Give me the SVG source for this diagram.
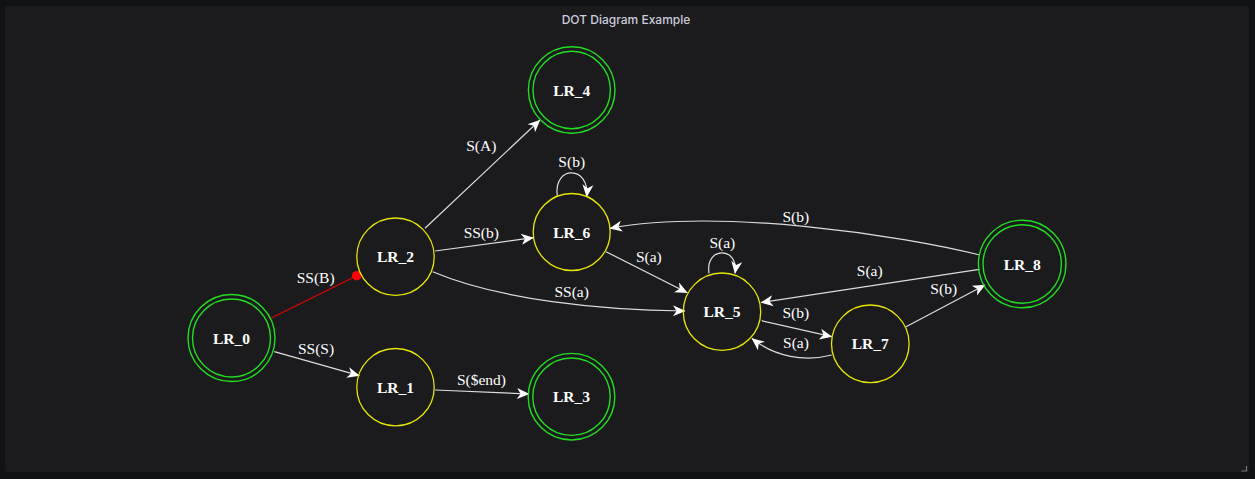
<svg xmlns="http://www.w3.org/2000/svg" width="1255" height="479" viewBox="0 0 1255 479">
<style>
.ttl{font-family:Inter,"Noto Sans",sans-serif;font-size:12px;font-weight:500;fill:#ccccdc;text-anchor:middle}
.nl{font-family:"Liberation Serif",serif;font-size:15.5px;font-weight:bold;fill:#ffffff;text-anchor:middle}
.el{font-family:"Liberation Serif",serif;font-size:15.5px;fill:#ffffff;text-anchor:middle}
.y{fill:none;stroke:#e6e600;stroke-width:1.3}
.g{fill:none;stroke:#22dd22;stroke-width:1.4}
.e{fill:none;stroke:#dcdcdc;stroke-width:1.2}
</style>
<defs>
<marker id="arr" viewBox="-13 -7 14 14" refX="0" refY="0" markerWidth="14" markerHeight="14" markerUnits="userSpaceOnUse" orient="auto">
<path d="M0.5,0 L-12,-5.5 L-8.5,0 L-12,5.5 Z" fill="#ffffff"/>
</marker>
</defs>
<rect x="0" y="0" width="1255" height="479" fill="#111216"/>
<rect x="5" y="6" width="1244" height="466" rx="3" fill="#1b1b1e"/>
<text class="ttl" x="626" y="24">DOT Diagram Example</text>
<path d="M1246.5,466 v5 h-5" fill="none" stroke="#777" stroke-width="1.2"/>

<g id="edges">
<line x1="270.7" y1="318.3" x2="356.7" y2="275.7" stroke="#e00000" stroke-width="1.2"/>
<circle cx="356.7" cy="275.7" r="4.8" fill="#ff0000"/>
<text class="el" x="315.6" y="283">SS(B)</text>

<line class="e" x1="274.3" y1="351.7" x2="359.3" y2="375.7" marker-end="url(#arr)"/>
<text class="el" x="316" y="354">SS(S)</text>

<line class="e" x1="435" y1="390" x2="529" y2="394" marker-end="url(#arr)"/>
<text class="el" x="481.5" y="385">S($end)</text>

<line class="e" x1="425" y1="228.3" x2="540" y2="120" marker-end="url(#arr)"/>
<text class="el" x="481.3" y="150.5">S(A)</text>

<line class="e" x1="435" y1="251" x2="533.3" y2="237.7" marker-end="url(#arr)"/>
<text class="el" x="481.3" y="237.5">SS(b)</text>

<path class="e" d="M432.7,271.7 C500,300 600,310 685,311" marker-end="url(#arr)"/>
<text class="el" x="571.7" y="297">SS(a)</text>

<path class="e" d="M557.3,196 C553,165 590,165 586.7,196.7" marker-end="url(#arr)"/>
<text class="el" x="571.7" y="167.3">S(b)</text>

<line class="e" x1="606" y1="251.7" x2="687.3" y2="292.7" marker-end="url(#arr)"/>
<text class="el" x="648.8" y="262.3">S(a)</text>

<path class="e" d="M709,273.3 C705,246 739,246 735,273.3" marker-end="url(#arr)"/>
<text class="el" x="722.3" y="248.3">S(a)</text>

<path class="e" d="M980,255 C900,235 720,208 610,228.3" marker-end="url(#arr)"/>
<text class="el" x="795.8" y="221.7">S(b)</text>

<line class="e" x1="979.3" y1="269.3" x2="761" y2="302.5" marker-end="url(#arr)"/>
<text class="el" x="869.7" y="276">S(a)</text>

<line class="e" x1="761.7" y1="320.7" x2="831.7" y2="336.7" marker-end="url(#arr)"/>
<text class="el" x="795.8" y="318.3">S(b)</text>

<path class="e" d="M831.7,355 C805,362 775,357 752,338.5" marker-end="url(#arr)"/>
<text class="el" x="796" y="347.7">S(a)</text>

<line class="e" x1="906" y1="326.7" x2="985" y2="285" marker-end="url(#arr)"/>
<text class="el" x="943.7" y="294">S(b)</text>
</g>

<g id="LR_0">
<circle class="g" cx="231.5" cy="338" r="43.5"/>
<circle class="g" cx="231.5" cy="338" r="39"/>
<text class="nl" x="231.5" y="344">LR_0</text>
</g>
<g id="LR_2">
<circle class="y" cx="395.5" cy="256.7" r="38.7"/>
<text class="nl" x="395.5" y="262.3">LR_2</text>
</g>
<g id="LR_1">
<circle class="y" cx="395.5" cy="387.2" r="38.7"/>
<text class="nl" x="395.5" y="392.8">LR_1</text>
</g>
<g id="LR_4">
<circle class="g" cx="571.7" cy="90" r="43.3"/>
<circle class="g" cx="571.7" cy="90" r="38.7"/>
<text class="nl" x="571.7" y="95.6">LR_4</text>
</g>
<g id="LR_6">
<circle class="y" cx="571.7" cy="232" r="38.5"/>
<text class="nl" x="571.7" y="237.6">LR_6</text>
</g>
<g id="LR_3">
<circle class="g" cx="571.5" cy="396.7" r="43.3"/>
<circle class="g" cx="571.5" cy="396.7" r="38.7"/>
<text class="nl" x="571.5" y="402.3">LR_3</text>
</g>
<g id="LR_5">
<circle class="y" cx="722" cy="311.7" r="38.7"/>
<text class="nl" x="722" y="317.3">LR_5</text>
</g>
<g id="LR_7">
<circle class="y" cx="870.3" cy="343.8" r="38.8"/>
<text class="nl" x="870.3" y="349.4">LR_7</text>
</g>
<g id="LR_8">
<circle class="g" cx="1022.2" cy="264" r="43.8"/>
<circle class="g" cx="1022.2" cy="264" r="39.2"/>
<text class="nl" x="1022.2" y="269.6">LR_8</text>
</g>
</svg>
